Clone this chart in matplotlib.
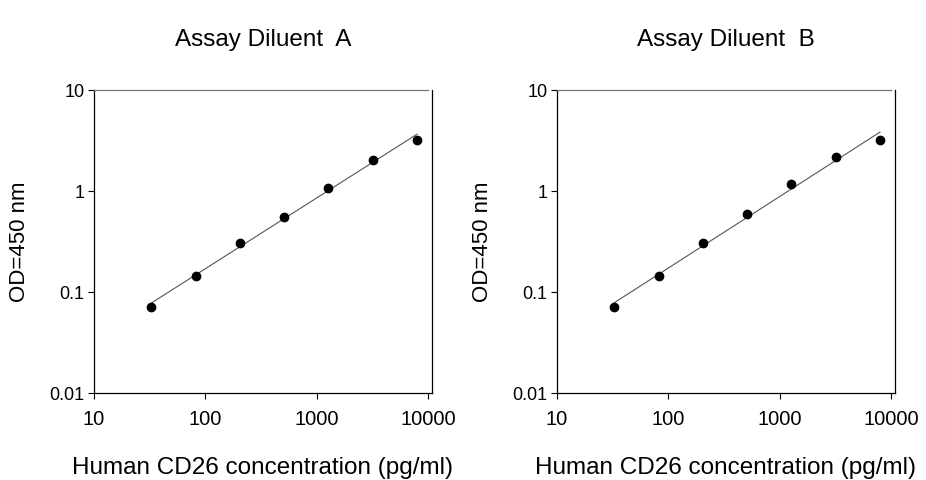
import matplotlib.pyplot as plt
import numpy as np

plt.rcParams["font.family"] = ["Liberation Sans", "DejaVu Sans"]

# standard concentrations (pg/ml), 2.5-fold dilution series
conc = [32.8, 81.9, 204.8, 512, 1280, 3200, 8000]

# OD readings for the two diluents
od_a = [0.0714, 0.146, 0.304, 0.558, 1.08, 2.06, 3.2]
od_b = [0.0714, 0.146, 0.304, 0.589, 1.186, 2.16, 3.2]

titles = ["Assay Diluent  A", "Assay Diluent  B"]
x_ticks = [10, 100, 1000, 10000]
x_tick_labels = ["10", "100", "1000", "10000"]
y_ticks = [0.01, 0.1, 1, 10]
y_tick_labels = ["0.01", "0.1", "1", "10"]


#
# one standard curve panel
#
def draw_panel(ax, x, y, title):
    # power fit, straight line on log-log axes
    slope, icpt = np.polyfit(np.log10(x), np.log10(y), 1)
    xs = np.array([x[0], x[-1]])
    ax.plot(xs, 10 ** (icpt + slope * np.log10(xs)), color="#555555", lw=0.8)

    # measured points
    ax.plot(x, y, "o", color="black", markersize=6, linestyle=" ")

    ax.set_xscale("log")
    ax.set_yscale("log")
    ax.set_xlim(10, 10900)
    ax.set_ylim(0.01, 10)
    ax.set_xticks(x_ticks)
    ax.set_xticklabels(x_tick_labels)
    ax.set_yticks(y_ticks)
    ax.set_yticklabels(y_tick_labels)
    ax.minorticks_off()
    ax.tick_params(axis="x", labelsize=14.5, length=4, pad=8)
    ax.tick_params(axis="y", labelsize=13, length=4, pad=3)

    # top border stops at the last decade, as in the original
    ax.spines["top"].set_bounds(10, 10000)
    ax.spines["top"].set_color("#777777")
    for side in ["left", "bottom", "right", "top"]:
        ax.spines[side].set_linewidth(0.9)

    ax.set_title(title, fontsize=17.5, pad=32)
    ax.set_xlabel("Human CD26 concentration (pg/ml)", fontsize=17.5, labelpad=20)
    ax.set_ylabel("OD=450 nm", fontsize=16, labelpad=14)


fig = plt.figure(figsize=(9.26, 4.8), dpi=100)
ax1 = fig.add_axes([0.1015, 0.181, 0.365, 0.631])
ax2 = fig.add_axes([0.6015, 0.181, 0.365, 0.631])

draw_panel(ax1, conc, od_a, titles[0])
draw_panel(ax2, conc, od_b, titles[1])

fig.savefig("out.png", dpi=100)
